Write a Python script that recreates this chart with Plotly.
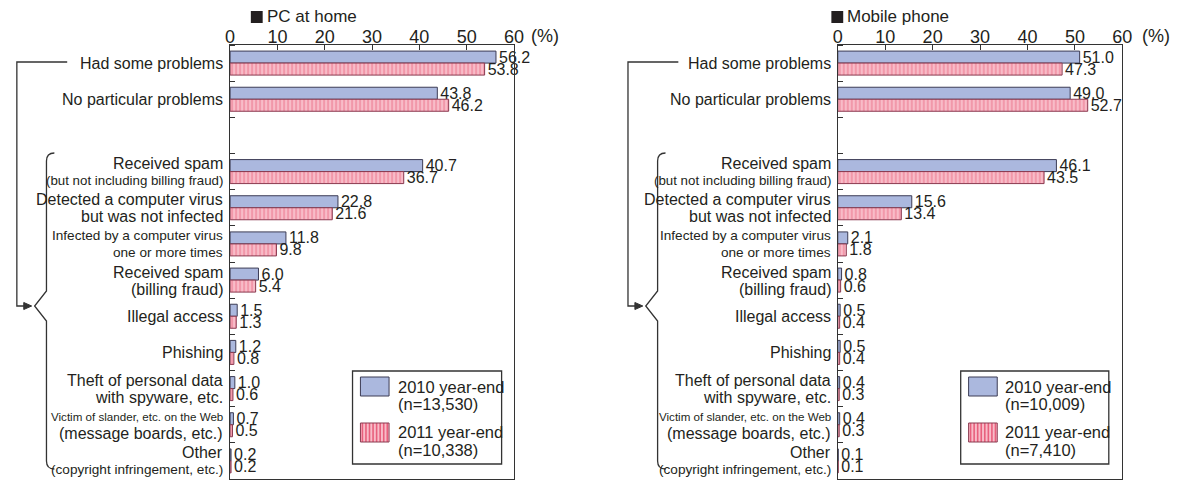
import plotly.graph_objects as go

# ---------------- data ----------------
categories = [
    ("Had some problems", ""),
    ("No particular problems", ""),
    ("Received spam", "(but not including billing fraud)"),
    ("Detected a computer virus", "but was not infected"),
    ("Infected by a computer virus", "one or more times"),
    ("Received spam", "(billing fraud)"),
    ("Illegal access", ""),
    ("Phishing", ""),
    ("Theft of personal data", "with spyware, etc."),
    ("Victim of slander, etc. on the Web", "(message boards, etc.)"),
    ("Other", "(copyright infringement, etc.)"),
]
pc_2010 = [56.2, 43.8, 40.7, 22.8, 11.8, 6.0, 1.5, 1.2, 1.0, 0.7, 0.2]
pc_2011 = [53.8, 46.2, 36.7, 21.6, 9.8, 5.4, 1.3, 0.8, 0.6, 0.5, 0.2]
mob_2010 = [51.0, 49.0, 46.1, 15.6, 2.1, 0.8, 0.5, 0.5, 0.4, 0.4, 0.1]
mob_2011 = [47.3, 52.7, 43.5, 13.4, 1.8, 0.6, 0.4, 0.4, 0.3, 0.3, 0.1]
x_ticks = [0, 10, 20, 30, 40, 50, 60]
panel_titles = ["PC at home", "Mobile phone"]
legend_2010 = [("2010 year-end", "(n=13,530)"), ("2010 year-end", "(n=10,009)")]
legend_2011 = [("2011 year-end", "(n=10,338)"), ("2011 year-end", "(n=7,410)")]

# ---------------- styles ----------------
W, H = 1181, 480
FONT = "Liberation Sans, Arial, sans-serif"
# lines that are set in a condensed face in the original: emulate with smaller size
narrow_sizes = {"(but not including billing fraud)": 13.3,
                "Infected by a computer virus": 13.6,
                "one or more times": 13.6,
                "Victim of slander, etc. on the Web": 11.6,
                "(copyright infringement, etc.)": 13.6}
TXT = "#231f20"
LINE = "#333333"
BLUE = "#abb8de"
BLUE_LINE = "#3c3c55"
PINK = "#f8bcc8"
PINK_STRIPE = "#e8607d"
PINK_LINE = "#8a3a50"


def fx(px):
    return px / W


def fy(py):
    return 1 - py / H


# slot positions: 2 summary rows, a blank slot, then the detail rows
positions = [0, 1] + [i + 3 for i in range(len(categories) - 2)]

panels = [
    dict(v10=pc_2010, v11=pc_2011, x0=228, x1=515.5, dx=0, lab_right=223,
         pct_x=531, sq_x=249, title_x=263, leg=(352, 503), leg_text=396),
    dict(v10=mob_2010, v11=mob_2011, x0=843.5, x1=1131.7, dx=619, lab_right=839,
         pct_x=1150, sq_x=837, title_x=851, leg=(968, 1118), leg_text=1011),
]
TOP, BOT = 45, 479

fig = go.Figure()
shapes = []
annotations = []

for k, p in enumerate(panels):
    xa = "x" if k == 0 else "x2"
    ya = "y" if k == 0 else "y2"
    fig.add_trace(go.Bar(
        y=positions, x=p["v10"], orientation="h", xaxis=xa, yaxis=ya,
        marker=dict(color=BLUE, line=dict(color=BLUE_LINE, width=1)),
        text=[f"{v:.1f}" for v in p["v10"]], textposition="outside",
        textfont=dict(family=FONT, size=16, color=TXT), cliponaxis=False,
        constraintext="none", showlegend=False, hoverinfo="skip"))
    fig.add_trace(go.Bar(
        y=positions, x=p["v11"], orientation="h", xaxis=xa, yaxis=ya,
        marker=dict(color=PINK, line=dict(color=PINK_LINE, width=1),
                    pattern=dict(shape="|", fgcolor=PINK_STRIPE, bgcolor=PINK,
                                 size=4, solidity=0.4)),
        text=[f"{v:.1f}" for v in p["v11"]], textposition="outside",
        textfont=dict(family=FONT, size=16, color=TXT), cliponaxis=False,
        constraintext="none", showlegend=False, hoverinfo="skip"))

    # category labels
    for (l1, l2), pos in zip(categories, positions):
        lines = [(l1, 0)] if not l2 else [(l1, -8), (l2, 9)]
        for txt, off in lines:
            size = narrow_sizes.get(txt, 16)
            annotations.append(dict(
                text=txt, x=fx(p["lab_right"]), xref="paper", xanchor="right",
                y=pos, yref=ya, yanchor="middle", yshift=-off, showarrow=False,
                font=dict(family=FONT, size=size, color=TXT)))

    # title
    shapes.append(dict(type="rect", xref="paper", yref="paper",
                       x0=fx(p["sq_x"]), x1=fx(p["sq_x"] + 12), y0=fy(11), y1=fy(23),
                       fillcolor="#231f20", line=dict(width=0)))
    annotations.append(dict(text=panel_titles[k], x=fx(p["title_x"]), xref="paper",
                            xanchor="left", y=fy(17), yref="paper", yanchor="middle",
                            showarrow=False, font=dict(family=FONT, size=17, color=TXT)))
    annotations.append(dict(text="(%)", x=fx(p["pct_x"]), xref="paper", xanchor="left",
                            y=fy(36), yref="paper", yanchor="middle", showarrow=False,
                            font=dict(family=FONT, size=18, color=TXT)))

    # bracket graphics
    d = p["dx"]
    shapes.append(dict(type="path", xref="paper", yref="paper",
                       path=f"M {fx(63+d)},{fy(62)} L {fx(12+d)},{fy(62)} L {fx(12+d)},{fy(306)} L {fx(21+d)},{fy(306)}",
                       line=dict(color=LINE, width=1.3)))
    shapes.append(dict(type="path", xref="paper", yref="paper",
                       path=f"M {fx(19+d)},{fy(302.5)} L {fx(27+d)},{fy(306)} L {fx(19+d)},{fy(309.5)} Z",
                       fillcolor=LINE, line=dict(color=LINE, width=1)))
    brace = (f"M {fx(50+d)},{fy(153)} Q {fx(42+d)},{fy(153)} {fx(42+d)},{fy(161)} "
             f"L {fx(42+d)},{fy(291)} L {fx(30+d)},{fy(306)} L {fx(42+d)},{fy(321)} "
             f"L {fx(42+d)},{fy(461)} Q {fx(42+d)},{fy(469)} {fx(50+d)},{fy(469)}")
    shapes.append(dict(type="path", xref="paper", yref="paper", path=brace,
                       line=dict(color=LINE, width=1.3)))

    # legend box
    lx0, lx1 = p["leg"]
    shapes.append(dict(type="rect", xref="paper", yref="paper",
                       x0=fx(lx0), x1=fx(lx1), y0=fy(371), y1=fy(464),
                       fillcolor="white", line=dict(color=LINE, width=1.3)))
    sx0, sx1 = lx0 + 8, lx0 + 37
    shapes.append(dict(type="rect", xref="paper", yref="paper",
                       x0=fx(sx0), x1=fx(sx1), y0=fy(377), y1=fy(396),
                       fillcolor=BLUE, line=dict(color=BLUE_LINE, width=1)))
    shapes.append(dict(type="rect", xref="paper", yref="paper",
                       x0=fx(sx0), x1=fx(sx1), y0=fy(423), y1=fy(442),
                       fillcolor=PINK, line=dict(width=0)))
    stripes = ""
    xs = sx0 + 2
    while xs < sx1 - 1:
        stripes += f"M {fx(xs)},{fy(423)} L {fx(xs)},{fy(442)} "
        xs += 3.6
    shapes.append(dict(type="path", xref="paper", yref="paper", path=stripes,
                       line=dict(color=PINK_STRIPE, width=1.6)))
    shapes.append(dict(type="rect", xref="paper", yref="paper",
                       x0=fx(sx0), x1=fx(sx1), y0=fy(423), y1=fy(442),
                       line=dict(color=PINK_LINE, width=1)))
    for (t1, t2), ys in ((legend_2010[k], (387, 404)), (legend_2011[k], (432, 450))):
        for t, yy in zip((t1, t2), ys):
            annotations.append(dict(text=t, x=fx(p["leg_text"]), xref="paper",
                                    xanchor="left", y=fy(yy), yref="paper",
                                    yanchor="middle", showarrow=False,
                                    font=dict(family=FONT, size=16.5, color=TXT)))

axis_common_x = dict(range=[0, 60], side="top", tickmode="array", tickvals=x_ticks,
                     ticktext=[str(t) for t in x_ticks], ticks="inside", ticklen=5,
                     tickcolor=LINE, tickwidth=1, showline=True, linecolor=LINE,
                     linewidth=1.3, mirror=True, showgrid=False, zeroline=False,
                     ticklabelstandoff=-6,
                     tickfont=dict(family=FONT, size=18, color=TXT), fixedrange=True)
axis_common_y = dict(range=[11.5, -0.5], tickmode="linear", tick0=0, dtick=1,
                     showticklabels=False, ticks="", showline=True, linecolor=LINE,
                     linewidth=1.3, mirror=True, showgrid=False, zeroline=False,
                     minor=dict(ticks="inside", ticklen=5, tickcolor=LINE, tickwidth=1,
                                tick0=0.5, dtick=1, showgrid=False),
                     fixedrange=True)

ydom = [1 - BOT / H, 1 - TOP / H]
fig.update_layout(
    width=W, height=H, margin=dict(l=0, r=0, t=0, b=0),
    paper_bgcolor="white", plot_bgcolor="white",
    barmode="group", bargap=0.336, bargroupgap=0,
    showlegend=False,
    xaxis=dict(axis_common_x, domain=[fx(panels[0]["x0"]), fx(panels[0]["x1"])], anchor="y"),
    yaxis=dict(axis_common_y, domain=ydom, anchor="x"),
    xaxis2=dict(axis_common_x, domain=[fx(panels[1]["x0"]), fx(panels[1]["x1"])], anchor="y2"),
    yaxis2=dict(axis_common_y, domain=ydom, anchor="x2"),
    shapes=shapes, annotations=annotations,
    font=dict(family=FONT, color=TXT),
)

fig.write_html("out.html", config={"displayModeBar": False},
               post_script="document.body.style.margin='0';document.body.style.padding='0';")
